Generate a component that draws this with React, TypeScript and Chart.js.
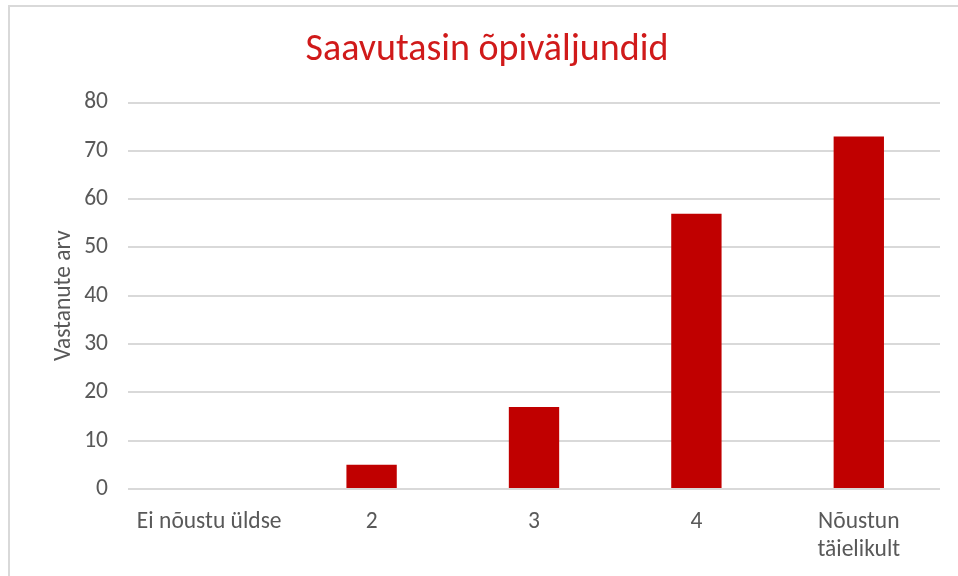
import React, { useEffect, useRef } from "react";
import { Chart, registerables } from "chart.js";

Chart.register(...registerables);

const categories: (string | string[])[] = ["Ei nõustu üldse", "2", "3", "4", ["Nõustun", "täielikult"]];
const values: number[] = [0, 5, 17, 57, 73];
const chartTitle = "Saavutasin õpiväljundid";
const yAxisTitle = "Vastanute arv";

const FONT = "Carlito, Lato, 'Open Sans', sans-serif";

export default function App() {
  const ref = useRef<HTMLCanvasElement | null>(null);
  useEffect(() => {
    document.body.style.margin = "0";
    const ctx = ref.current!;
    const chart = new Chart(ctx, {
      type: "bar",
      data: {
        labels: categories,
        datasets: [
          {
            data: values,
            backgroundColor: "#C00000",
            borderWidth: 0,
            categoryPercentage: 1,
            barPercentage: 0.31,
          },
        ],
      },
      options: {
        animation: false,
        responsive: false,
        maintainAspectRatio: false,
        layout: { padding: { left: 34, right: 18, top: 0, bottom: 0 } },
        plugins: {
          legend: { display: false },
          tooltip: { enabled: false },
          title: {
            display: true,
            text: chartTitle,
            color: "#D01A1A",
            font: { family: FONT, size: 38, weight: "normal" },
            padding: { top: 28, bottom: 29 },
          },
        },
        scales: {
          x: {
            grid: { display: false, drawTicks: false },
            border: { display: false },
            ticks: {
              color: "#595959",
              font: { family: FONT, size: 23.5 },
              padding: 19,
              maxRotation: 0,
              autoSkip: false,
            },
            afterFit: (s: any) => {
              s.height = 87;
            },
          },
          y: {
            min: 0,
            max: 80,
            ticks: {
              stepSize: 10,
              color: "#595959",
              font: { family: FONT, size: 23.5 },
              padding: 20,
            },
            grid: { color: "#d9d9d9", lineWidth: 2, drawTicks: false },
            border: { display: false },
            title: {
              display: true,
              text: yAxisTitle,
              color: "#595959",
              font: { family: FONT, size: 23.5 },
              padding: { top: 16, bottom: 6 },
            },
            afterFit: (s: any) => {
              s.width = 94;
            },
          },
        },
      },
    });
    return () => chart.destroy();
  }, []);
  return (
    <div style={{ position: "relative", width: 958, height: 576, overflow: "hidden", background: "#fff" }}>
      <div
        style={{
          position: "absolute",
          left: 8,
          top: 5,
          width: 1000,
          height: 700,
          borderTop: "2px solid #d9d9d9",
          borderLeft: "2px solid #d9d9d9",
        }}
      />
      <canvas ref={ref} width={958} height={576} style={{ position: "absolute", left: 0, top: 0 }} />
    </div>
  );
}
